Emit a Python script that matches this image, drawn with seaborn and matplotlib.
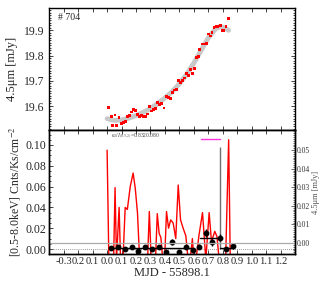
import numpy as np
import pandas as pd
import matplotlib
matplotlib.use("Agg")
import matplotlib.pyplot as plt
import seaborn as sns
from matplotlib.ticker import MultipleLocator

# ---------------- data ----------------
ir_t = [0.009, 0.028, 0.039, 0.055, 0.067, 0.083, 0.099, 0.113, 0.126, 0.140,
        0.154, 0.168, 0.182, 0.196, 0.209, 0.223, 0.237, 0.251, 0.265, 0.278,
        0.292, 0.306, 0.320, 0.334, 0.350, 0.360, 0.377, 0.393, 0.409, 0.423,
        0.437, 0.450, 0.464, 0.478, 0.492, 0.506, 0.520, 0.534, 0.547, 0.561,
        0.575, 0.589, 0.602, 0.616, 0.630, 0.641, 0.657, 0.671, 0.685, 0.699,
        0.713, 0.726, 0.740, 0.754, 0.768, 0.782, 0.795, 0.809, 0.823, 0.839]
ir_flux = [19.593, 19.557, 19.522, 19.564, 19.523, 19.553, 19.530, 19.534, 19.538, 19.560,
           19.561, 19.576, 19.587, 19.582, 19.567, 19.557, 19.563, 19.557, 19.560, 19.568,
           19.597, 19.580, 19.585, 19.590, 19.613, 19.607, 19.610, 19.592, 19.638, 19.634,
           19.630, 19.655, 19.663, 19.665, 19.702, 19.694, 19.702, 19.711, 19.728, 19.722,
           19.745, 19.728, 19.750, 19.792, 19.796, 19.823, 19.846, 19.846, 19.847, 19.885,
           19.877, 19.892, 19.912, 19.914, 19.914, 19.918, 19.900, 19.898, 19.914, 19.946]

fit_t = [0.00, 0.05, 0.10, 0.15, 0.20, 0.25, 0.30, 0.35, 0.40, 0.45, 0.50,
         0.55, 0.60, 0.65, 0.70, 0.75, 0.78, 0.81, 0.84]
fit_flux = [19.550, 19.543, 19.545, 19.552, 19.562, 19.575, 19.590, 19.610, 19.632, 19.657, 19.688,
            19.725, 19.770, 19.820, 19.870, 19.905, 19.915, 19.910, 19.900]

xr_t = [0.000, 0.012, 0.030, 0.045, 0.055, 0.065, 0.083, 0.093, 0.110, 0.125,
        0.140, 0.160, 0.180, 0.195, 0.210, 0.225, 0.245, 0.265, 0.280, 0.292,
        0.305, 0.320, 0.335, 0.347, 0.360, 0.372, 0.385, 0.398, 0.411, 0.425,
        0.440, 0.457, 0.475, 0.492, 0.508, 0.526, 0.545, 0.560, 0.575, 0.590,
        0.600, 0.615, 0.636, 0.660, 0.683, 0.706, 0.722, 0.745, 0.760, 0.775,
        0.800, 0.820, 0.841, 0.852]
xr_rate = [0.095, -0.010, -0.010, -0.010, 0.059, -0.010, 0.040, -0.010, -0.010, 0.040,
           0.038, 0.060, 0.073, 0.058, 0.035, -0.010, -0.010, -0.010, -0.010, 0.036,
           -0.010, -0.010, -0.010, 0.034, 0.015, 0.011, -0.010, -0.010, 0.036, 0.020,
           0.028, 0.025, 0.010, 0.0615, 0.028, 0.020, 0.0125, -0.010, -0.010, 0.010,
           -0.010, -0.010, 0.0135, 0.035, -0.010, 0.035, 0.007, 0.017, 0.012, -0.010,
           -0.010, -0.010, 0.105, -0.010]

bin_t = [0.028, 0.078, 0.124, 0.170, 0.216, 0.262, 0.308, 0.357, 0.405, 0.450,
         0.499, 0.545, 0.591, 0.637, 0.683, 0.729, 0.779, 0.826, 0.871]
bin_rate = [0.0013, 0.0022, 0.0000, 0.0022, -0.0016, 0.0022, 0.0000, 0.0016, -0.0026, 0.0070,
            -0.0026, 0.0016, -0.0010, 0.0022, 0.0157, 0.0064, 0.0109, 0.0000, 0.0032]
bin_err = [0.0020, 0.0020, 0.0020, 0.0020, 0.0020, 0.0020, 0.0020, 0.0020, 0.0020, 0.0030,
           0.0020, 0.0020, 0.0020, 0.0025, 0.0040, 0.0035, 0.0035, 0.0020, 0.0030]

seg_start = [0.02, 0.64, 0.78]
seg_end = [0.59, 0.78, 0.87]
seg_rate = [0.0013, 0.0105, 0.0013]

flare_t = [0.779]
flare_top = [0.098]
window_t = [0.653, 0.784]
window_level = 0.1058

xtick_vals = [-0.3, -0.2, -0.1, 0.0, 0.1, 0.2, 0.3, 0.4, 0.5, 0.6, 0.7, 0.8, 0.9, 1.0, 1.1, 1.2]
xtick_labels = ["-0.3", "0.2", "0.1", "0.0", "0.1", "0.2", "0.3", "0.4", "0.5", "0.6",
                "0.7", "0.8", "0.9", "1.0", "1.1", "1.2"]

# ---------------- style ----------------
sns.set_style("ticks")
plt.rcParams['font.family'] = ['Liberation Serif', 'DejaVu Serif']
plt.rcParams['mathtext.fontset'] = 'stix'

W, H = 327, 288
fig = plt.figure(figsize=(W / 100, H / 100), dpi=100)
L, R = 49.3, 295.0
ax1 = fig.add_axes([L / W, 1 - 130 / H, (R - L) / W, (130 - 8.3) / H])
ax2 = fig.add_axes([L / W, 1 - 254 / H, (R - L) / W, (254 - 130) / H])
ax2r = ax2.twinx()

# ---- top panel ----
df_fit = pd.DataFrame({"t": fit_t, "f": fit_flux})
sns.lineplot(data=df_fit, x="t", y="f", ax=ax1, color="#c8c8c8", lw=3.5, sort=True)
df_ir = pd.DataFrame({"t": ir_t, "f": ir_flux})
sns.scatterplot(data=df_ir, x="t", y="f", ax=ax1, color="red", marker="s", s=4,
                edgecolor="none", zorder=3)
ax1.set_xlim(-0.4, 1.3)
ax1.set_ylim(19.505, 19.987)
ax1.set_yticks([19.6, 19.7, 19.8, 19.9])
ax1.yaxis.set_minor_locator(MultipleLocator(0.01))
ax1.set_xticks(xtick_vals)
ax1.set_xticklabels([])
ax1.set_xlabel("")
ax1.set_ylabel("4.5μm [mJy]", fontsize=9)
ax1.text(0.035, 0.96, "# 704", transform=ax1.transAxes, fontsize=7, va="top", ha="left")
ax1.tick_params(axis="both", which="both", direction="in", top=True, right=True,
                labelsize=8.5, length=3, width=0.6)
ax1.tick_params(axis="y", which="minor", length=1.5)

# ---- bottom panel ----
df_xr = pd.DataFrame({"t": xr_t, "r": xr_rate})
sns.lineplot(data=df_xr, x="t", y="r", ax=ax2, color="red", lw=1.0, sort=False, zorder=2)
ax2.axhline(0.0, color="#777777", lw=0.6, ls=(0, (1, 1.5)), zorder=1)
for s, e, v in zip(seg_start, seg_end, seg_rate):
    ax2.plot([s, e], [v, v], color="black", lw=1.0, zorder=4)
ax2.errorbar(bin_t, bin_rate, yerr=bin_err, fmt="o", color="black", ms=3.2,
             elinewidth=1.0, capsize=0, zorder=5)
ax2.vlines(flare_t, 0.0, flare_top, color="#707070", lw=1.0, zorder=3)
ax2.plot(window_t, [window_level, window_level], color="#ff33dd", lw=1.0, zorder=3)
ax2.text(0.03, 0.1125, r"$\kappa_S/I_{(0.5,2)}$=0.8320.080", fontsize=4, va="top",
         ha="left", color="#444444")
ax2.set_xlim(-0.4, 1.3)
ax2.set_ylim(-0.0048, 0.1144)
ax2.set_yticks([0.0, 0.02, 0.04, 0.06, 0.08, 0.10])
ax2.set_yticklabels(["0.00", "0.02", "0.04", "0.06", "0.08", "0.10"])
ax2.yaxis.set_minor_locator(MultipleLocator(0.005))
ax2.set_xticks(xtick_vals)
ax2.set_xticklabels(xtick_labels)
ax2.set_xlabel("MJD - 55898.1", fontsize=9, labelpad=1)
ax2.set_ylabel("[0.5-8.0keV] Cnts/Ks/cm$^{-2}$", fontsize=8.5, labelpad=2)
ax2.tick_params(axis="both", which="both", direction="in", top=True,
                labelsize=8.5, length=3, width=0.6, pad=2)
ax2.tick_params(axis="x", labelsize=7.6)
ax2.tick_params(axis="y", which="minor", length=1.5)

ax2r.set_ylim(-0.0059, 0.0608)
ax2r.axhline(0.0, color="#aaaaaa", lw=0.9, zorder=1)
ax2r.set_yticks([0.0, 0.01, 0.02, 0.03, 0.04, 0.05])
ax2r.set_yticklabels(["0.00", "0.01", "0.02", "0.03", "0.04", "0.05"])
ax2r.yaxis.set_minor_locator(MultipleLocator(0.001))
ax2r.tick_params(axis="y", which="both", direction="in", labelsize=5.5, length=3,
                 width=0.5, pad=1, colors="#333333")
ax2r.tick_params(axis="y", which="minor", length=1.5)
ax2r.set_ylabel("4.5μm [mJy]", fontsize=6, color="#555555", labelpad=2)

for a in (ax1, ax2, ax2r):
    for sp in a.spines.values():
        sp.set_visible(True)
        sp.set_linewidth(1.0)
        sp.set_color("black")

fig.savefig("out.png", dpi=100)
